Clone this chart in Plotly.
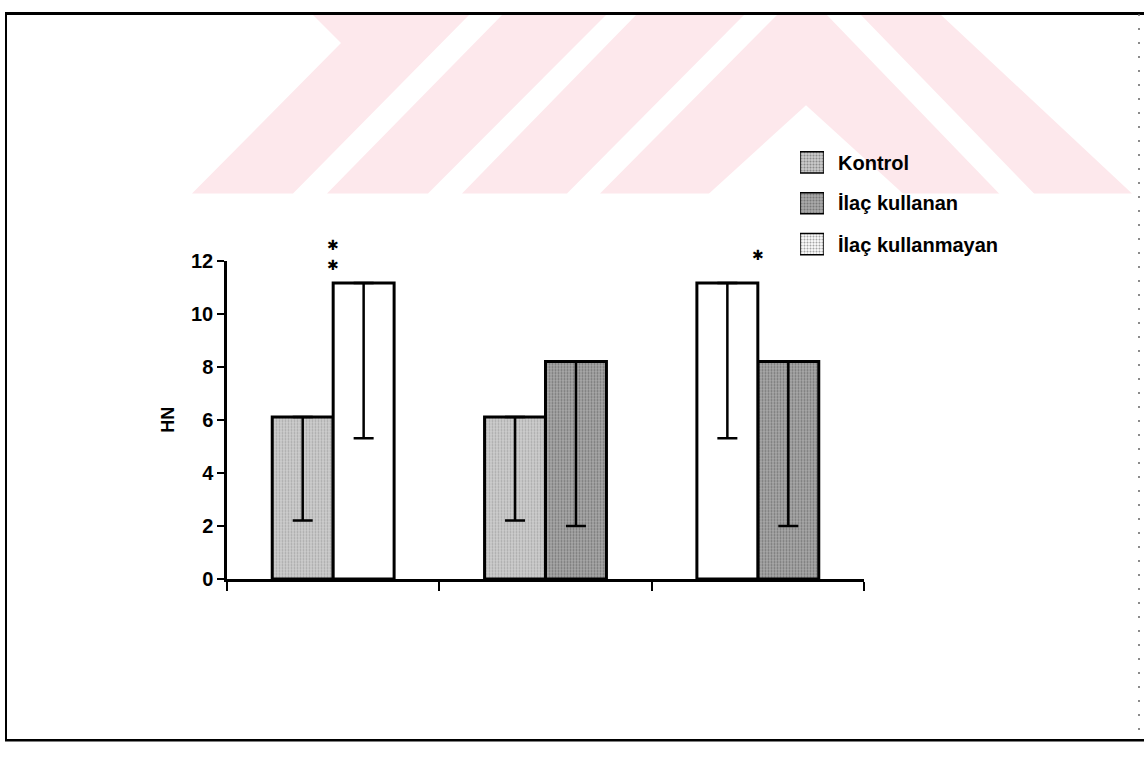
import plotly.graph_objects as go

# ---- data -------------------------------------------------------------
group_pos = [0, 1, 2]                      # three comparison groups
series_names = ["Kontrol", "İlaç kullanan", "İlaç kullanmayan"]
kontrol_mean = [6.1, 6.1, None]
kontrol_sd = [3.9, 3.9, None]
kullanan_mean = [None, 8.2, 8.2]
kullanan_sd = [None, 6.2, 6.2]
kullanmayan_mean = [11.15, None, 11.15]
kullanmayan_sd = [5.85, None, 5.85]
star_counts = [2, 0, 1]                    # significance marks per group
y_ticks = [0, 2, 4, 6, 8, 10, 12]

means = {"Kontrol": kontrol_mean, "İlaç kullanan": kullanan_mean,
         "İlaç kullanmayan": kullanmayan_mean}
sds = {"Kontrol": kontrol_sd, "İlaç kullanan": kullanan_sd,
       "İlaç kullanmayan": kullanmayan_sd}
# left-to-right order of the two bars inside a group
bar_order = ["Kontrol", "İlaç kullanmayan", "İlaç kullanan"]

# ---- styling ------------------------------------------------------------
W, H = 1144, 757
PX_L, PX_R, PX_T, PX_B = 227, 864, 257, 585
BAR_W = 0.287
FONT = "Liberation Sans, Arial, sans-serif"
PINK = "#fde8ec"

styles = {
    "Kontrol": dict(bg="#cdcdcd", fg="#808080", solidity=0.3),
    "İlaç kullanan": dict(bg="#ababab", fg="#3c3c3c", solidity=0.4),
    "İlaç kullanmayan": dict(bg="#ffffff", fg="#ffffff", solidity=0.01),
}


def fx(px):
    return px / W


def fy(py):
    return 1 - py / H


def poly(pts):
    return "M " + " L ".join(f"{fx(x):.5f},{fy(y):.5f}" for x, y in pts) + " Z"


fig = go.Figure()

for name in series_names:
    vals = means[name]
    offs = []
    for g in range(len(group_pos)):
        present = [s for s in bar_order if means[s][g] is not None]
        offs.append(-BAR_W if present and present[0] == name else 0.0)
    st = styles[name]
    fig.add_trace(go.Bar(
        x=group_pos, y=vals, width=BAR_W, offset=offs, name=name,
        marker=dict(color=st["bg"], line=dict(color="black", width=3),
                    pattern=dict(shape=".", fgcolor=st["fg"], bgcolor=st["bg"],
                                 size=3, solidity=st["solidity"])),
        error_y=dict(type="data", symmetric=False, array=[0] * len(vals),
                     arrayminus=[v if v is not None else 0 for v in sds[name]],
                     color="black", thickness=2.5, width=10),
        showlegend=False, hoverinfo="skip",
    ))

# legend swatches on their own small axes
fig.add_trace(go.Bar(
    x=[1] * len(series_names), y=list(range(len(series_names))), base=0,
    orientation="h", width=0.52, xaxis="x2", yaxis="y2",
    marker=dict(color=[styles[n]["bg"] for n in series_names],
                line=dict(color="black", width=1.5),
                pattern=dict(shape=".", fgcolor=[styles[n]["fg"] for n in series_names],
                             bgcolor=[styles[n]["bg"] for n in series_names],
                             size=3, solidity=0.4)),
    showlegend=False, hoverinfo="skip",
))

annotations = []
row_px = [157, 198, 241]
for name, py in zip(series_names, row_px):
    annotations.append(dict(xref="paper", yref="paper", x=fx(836), y=fy(py),
                            xanchor="left", yanchor="middle", showarrow=False,
                            text=name, font=dict(family=FONT, size=20,
                                                 color="black", weight="bold")))

# significance asterisks above each group
for g, n in zip(group_pos, star_counts):
    if n == 0:
        continue
    top = max(means[s][g] for s in series_names if means[s][g] is not None)
    for k in range(n):
        annotations.append(dict(x=g, y=top, xref="x", yref="y", showarrow=False,
                                text="✱", yanchor="middle",
                                yshift=28 + (k - (n - 1) / 2) * 20,
                                font=dict(family="DejaVu Sans", size=14,
                                          color="black")))

shapes = []
# red watermark stripes in the page header
for pts in [
    [(312, 3), (470, 3), (293, 188), (192, 188), (341, 33)],
    [(503, 3), (607, 3), (428, 188), (327, 188)],
    [(637, 3), (745, 3), (567, 188), (462, 188)],
    [(778, 3), (940, 3), (1132, 188), (600, 188)],
]:
    shapes.append(dict(type="path", path=poly(pts), xref="paper", yref="paper",
                       fillcolor=PINK, line=dict(width=0), layer="below"))
for pts in [
    [(806, 97), (904, 189), (708, 189)],
    [(826, 3), (860, 3), (1035, 189), (1000, 189)],
]:
    shapes.append(dict(type="path", path=poly(pts), xref="paper", yref="paper",
                       fillcolor="white", line=dict(width=0), layer="below"))

# page frame
shapes += [
    dict(type="line", xref="paper", yref="paper", x0=fx(6), x1=fx(6),
         y0=fy(3), y1=fy(751), line=dict(color="black", width=2)),
    dict(type="line", xref="paper", yref="paper", x0=fx(5), x1=fx(1144),
         y0=fy(2.5), y1=fy(2.5), line=dict(color="black", width=3)),
    dict(type="line", xref="paper", yref="paper", x0=fx(5), x1=fx(1144),
         y0=fy(751), y1=fy(751), line=dict(color="black", width=2.5)),
    dict(type="line", xref="paper", yref="paper", x0=fx(1139), x1=fx(1139),
         y0=fy(3), y1=fy(751), line=dict(color="#666666", width=1.5,
                                         dash="2px,12px")),
]

fig.update_layout(
    width=W, height=H, margin=dict(l=0, r=0, t=0, b=0),
    paper_bgcolor="white", plot_bgcolor="rgba(0,0,0,0)",
    barmode="overlay", showlegend=False,
    font=dict(family=FONT, color="black"),
    xaxis=dict(domain=[fx(PX_L), fx(PX_R)], range=[-0.5, 2.5],
               showline=True, linecolor="black", linewidth=2.5,
               ticks="outside", tickvals=[-0.5, 0.5, 1.5, 2.5], ticklen=9,
               tickwidth=2, tickcolor="black", showticklabels=False,
               showgrid=False, zeroline=False),
    yaxis=dict(domain=[fy(PX_B), fy(PX_T)], range=[0, 12],
               showline=True, linecolor="black", linewidth=2.5,
               ticks="outside", tickvals=y_ticks, ticklen=7, tickwidth=2,
               tickcolor="black", showgrid=False, zeroline=False,
               tickfont=dict(family=FONT, size=20, weight="bold"),
               title=dict(text="HN", standoff=12,
                          font=dict(family=FONT, size=18, weight="bold"))),
    xaxis2=dict(domain=[fx(800), fx(824)], range=[0, 1], visible=False,
                anchor="y2"),
    yaxis2=dict(domain=[fy(261), fy(135)], range=[2.5, -0.5], visible=False,
                anchor="x2"),
    annotations=annotations, shapes=shapes,
)

fig.write_html("out.html")
